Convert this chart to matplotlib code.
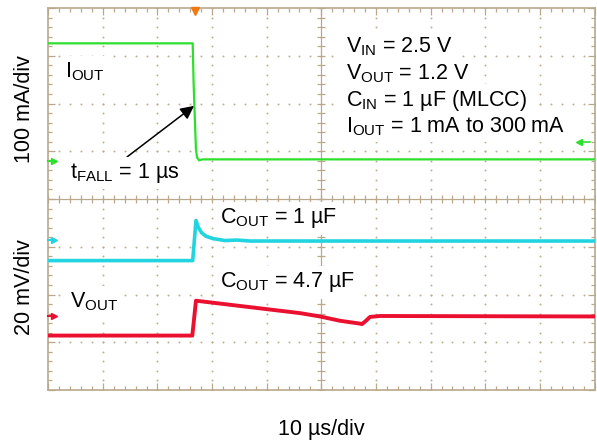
import numpy as np
import matplotlib
matplotlib.use("Agg")
import matplotlib.pyplot as plt

plt.rcParams['font.family'] = ['Liberation Sans', 'DejaVu Sans']
plt.rcParams['mathtext.fontset'] = 'custom'
plt.rcParams['mathtext.rm'] = 'Liberation Sans'
plt.rcParams['mathtext.it'] = 'Liberation Sans:italic'
plt.rcParams['mathtext.bf'] = 'Liberation Sans:bold'

# time axis in us (10 us/div), vertical axis in screen divisions
# I_OUT trace (green)
iout_t = [0.0, 26.45, 26.6, 26.85, 27.05, 27.25, 27.6, 28.3, 100.0]
iout_y = [3.26, 3.26, 2.49, 1.65, 1.03, 0.87, 0.81, 0.83, 0.83]

# V_OUT with C_OUT = 1 uF (cyan)
v1_t = [0.0, 26.45, 27.05, 27.5, 28.1, 28.89, 30.17, 32.36, 34.56, 36.94, 100.0]
v1_y = [-1.29, -1.29, -0.45, -0.60, -0.71, -0.78, -0.83, -0.87, -0.86, -0.88, -0.88]

# V_OUT with C_OUT = 4.7 uF (red)
v47_t = [0.0, 26.38, 27.05, 27.79, 31.45, 38.77, 46.09, 49.75, 53.41, 57.07,
         57.44, 58.17, 58.9, 60.73, 100.0]
v47_y = [-2.86, -2.86, -2.13, -2.14, -2.19, -2.29, -2.39, -2.46, -2.55, -2.61,
         -2.62, -2.55, -2.47, -2.45, -2.46]

# channel reference markers (div) and trigger settings
ref_levels = [0.80, -0.85, -2.45]
trig_level = 1.20
trig_time = 26.9

GREEN = '#2ee02e'
CYAN = '#22d4e0'
RED = '#ec1030'
TAN = '#b9a98a'
DOT = '#bfb092'

W, H = 597, 442
fig = plt.figure(figsize=(W / 100, H / 100), dpi=100)
x0, x1, y0, y1 = 48.2, 594.5, 8.0, 390.0
ax = fig.add_axes([x0 / W, 1 - y1 / H, (x1 - x0) / W, (y1 - y0) / H])
ax.set_xlim(0, 100)
ax.set_ylim(-4, 4)

# scope graticule
for gx in range(10, 100, 10):
    if gx == 50:
        continue
    yy = np.arange(-4, 4.01, 0.2)
    ax.scatter(np.full_like(yy, gx), yy, s=2.0, color=DOT, lw=0, zorder=1)
for gy in range(-3, 4):
    if gy == 0:
        continue
    xx = np.arange(0, 100.1, 2)
    ax.scatter(xx, np.full_like(xx, gy), s=2.0, color=DOT, lw=0, zorder=1)
ax.axvline(50, color=TAN, lw=0.9, zorder=1)
ax.axhline(0, color=TAN, lw=0.9, zorder=1)
tx = np.arange(0, 100.1, 2)
ax.plot(tx, np.zeros_like(tx), ls='none', marker='|', ms=6, mew=0.9, color=TAN, zorder=1)
ty = np.arange(-4, 4.01, 0.2)
ax.plot(np.full_like(ty, 50), ty, ls='none', marker='_', ms=6, mew=0.9, color=TAN, zorder=1)

for s in ax.spines.values():
    s.set_color(TAN)
    s.set_linewidth(1.2)
ax.set_xticks(np.arange(0, 101, 10))
ax.set_xticks(np.arange(0, 101, 2), minor=True)
ax.set_yticks(np.arange(-4, 5, 1))
ax.set_yticks(np.arange(-4, 4.01, 0.2), minor=True)
ax.tick_params(which='both', direction='in', top=True, right=True, color=TAN,
               labelbottom=False, labelleft=False)
ax.tick_params(which='major', length=5, width=0.9)
ax.tick_params(which='minor', length=3, width=0.9)

# traces
ax.plot(iout_t, iout_y, color=GREEN, lw=1.6, zorder=4)
ax.plot(v1_t, v1_y, color=CYAN, lw=2.6, zorder=4)
ax.plot(v47_t, v47_y, color=RED, lw=2.8, zorder=4)

# channel markers
for lvl, c in zip(ref_levels, [GREEN, CYAN, RED]):
    ax.plot([0, 1.0], [lvl, lvl], color=c, lw=1.5, clip_on=False, zorder=5)
    ax.plot([1.0], [lvl], marker='>', ms=5, color=c, clip_on=False, zorder=5)
ax.plot([97.2, 99.2], [trig_level, trig_level], color=GREEN, lw=1.2, zorder=5)
ax.plot([97.2], [trig_level], marker='<', ms=4, color=GREEN, zorder=5)
ax.plot([trig_time], [3.93], marker='v', ms=6, color='#f07a10', clip_on=False, zorder=5)

# arrow to the falling edge
ax.annotate('', xy=(26.69, 1.95), xytext=(14.42, 0.88),
            arrowprops=dict(arrowstyle='-|>', color='black', lw=1.1,
                            mutation_scale=20, shrinkA=0, shrinkB=0), zorder=6)

FS = 15.5
box = dict(facecolor='white', edgecolor='none', pad=0.4 * FS / 2)


def label(px, py, s, **kw):
    kw.setdefault('ha', 'left')
    kw.setdefault('va', 'baseline')
    fig.text(px / W, 1 - py / H, s, fontsize=FS, **kw)


label(65, 77, r'I$_{\mathrm{OUT}}$', bbox=box, zorder=3)
label(70, 178, r't$_{\mathrm{FALL}}$ = 1 µs', bbox=box, zorder=3)
label(346, 52.7, r'V$_{\mathrm{IN}}$ = 2.5 V', bbox=box, zorder=3)
label(346, 79.5, r'V$_{\mathrm{OUT}}$ = 1.2 V', bbox=box, zorder=3)
label(346, 106, r'C$_{\mathrm{IN}}$ = 1 µF (MLCC)', bbox=box, zorder=3)
label(346, 132, r'I$_{\mathrm{OUT}}$ = 1 mA to 300 mA', bbox=box, zorder=3)
label(220, 223.3, r'C$_{\mathrm{OUT}}$ = 1 µF', bbox=box, zorder=3)
label(220, 287.3, r'C$_{\mathrm{OUT}}$ = 4.7 µF', bbox=box, zorder=3)
label(70, 307.3, r'V$_{\mathrm{OUT}}$', bbox=box, zorder=3)

label(25, 109, '100 mA/div', rotation=90, ha='center', va='center')
label(25, 287, '20 mV/div', rotation=90, ha='center', va='center')
label(321, 435, '10 µs/div', ha='center')

fig.savefig('out.png', dpi=100)
